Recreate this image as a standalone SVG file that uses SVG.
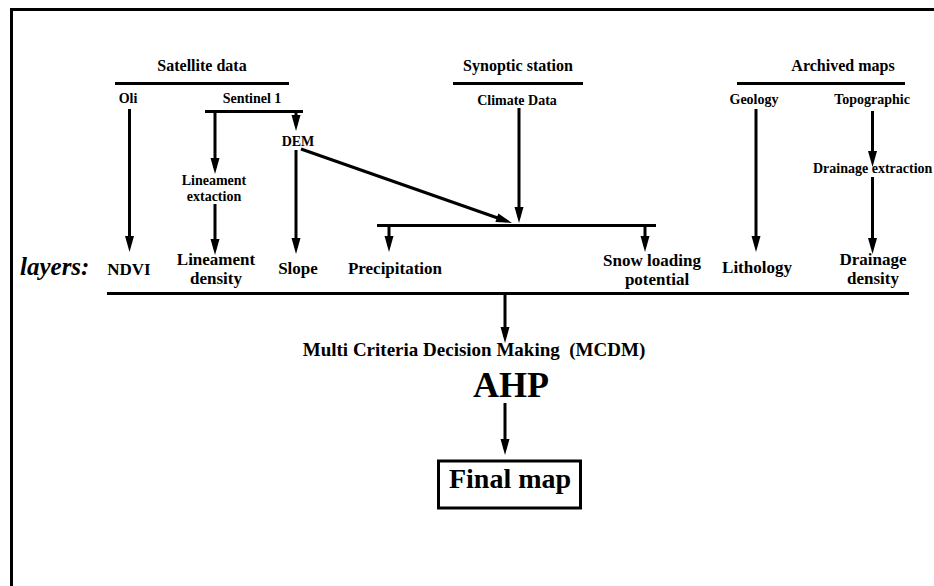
<svg xmlns="http://www.w3.org/2000/svg" width="934" height="586" viewBox="0 0 934 586" font-family="'Liberation Serif', 'Times New Roman', 'DejaVu Serif', serif" font-weight="bold">
<style>
text{font-family:'Liberation Serif','Times New Roman','DejaVu Serif',serif;font-weight:bold;fill:#000;text-anchor:middle}
.h{font-size:16px}
.s{font-size:14px}
.l{font-size:17px}
.ln{stroke:#000;stroke-width:3;fill:none}
.ar{stroke:#000;stroke-width:3;fill:none;marker-end:url(#ah)}
</style>
<defs>
<marker id="ah" markerUnits="userSpaceOnUse" markerWidth="18" markerHeight="10" refX="10" refY="4.5" orient="auto" overflow="visible">
<path d="M0,0 L16,4.5 L0,9 z" fill="#000"/>
</marker>
</defs>
<rect width="934" height="586" fill="#fff"/>
<path class="ln" d="M11.5,600 V9.5 H950"/>

<g id="connectors">
<line class="ln" x1="115" y1="83.5" x2="289" y2="83.5"/>
<line class="ln" x1="453" y1="83.5" x2="583" y2="83.5"/>
<line class="ln" x1="737" y1="83.5" x2="905" y2="83.5"/>
<line class="ln" x1="205" y1="111.5" x2="303" y2="111.5"/>
<line class="ln" x1="377" y1="225.5" x2="656" y2="225.5"/>
<line class="ln" x1="107" y1="293.5" x2="909" y2="293.5"/>
<line class="ar" x1="129.5" y1="109" x2="129.5" y2="246"/>
<line class="ar" x1="215" y1="112" x2="215" y2="168"/>
<line class="ar" x1="215" y1="204" x2="215" y2="249"/>
<line class="ar" x1="296" y1="112" x2="296" y2="125"/>
<line class="ar" x1="296" y1="150" x2="296" y2="248"/>
<line class="ar" x1="301" y1="149" x2="506.3" y2="221"/>
<line class="ar" x1="519" y1="108" x2="519" y2="217"/>
<line class="ar" x1="389" y1="226" x2="389" y2="246"/>
<line class="ar" x1="645" y1="226" x2="645" y2="246"/>
<line class="ar" x1="756" y1="109" x2="756" y2="246"/>
<line class="ar" x1="872.5" y1="111" x2="872.5" y2="161"/>
<line class="ar" x1="872.5" y1="177" x2="872.5" y2="248"/>
<line class="ar" x1="505" y1="295" x2="505" y2="337"/>
<line class="ar" x1="505" y1="403" x2="505" y2="449"/>
</g>

<g id="satellite-data"><text class="h" x="202" y="71">Satellite data</text></g>
<g id="synoptic-station"><text class="h" x="518" y="71">Synoptic station</text></g>
<g id="archived-maps"><text class="h" x="843" y="71">Archived maps</text></g>

<g id="oli"><text class="s" x="128" y="103">Oli</text></g>
<g id="sentinel1"><text class="s" x="252" y="103">Sentinel 1</text></g>
<g id="dem"><text class="s" x="298" y="146">DEM</text></g>
<g id="lineament-extaction"><text class="s" x="214" y="185">Lineament</text><text class="s" x="214" y="201">extaction</text></g>
<g id="climate-data"><text class="s" x="517" y="105">Climate Data</text></g>
<g id="geology"><text class="s" x="754" y="104">Geology</text></g>
<g id="topographic"><text class="s" x="872" y="104">Topographic</text></g>
<g id="drainage-extraction"><text class="s" x="813" y="173" style="text-anchor:start">Drainage extraction</text></g>

<g id="layers"><text x="20" y="275" style="text-anchor:start;font-size:25px;font-style:italic">layers:</text></g>
<g id="ndvi"><text class="l" x="129" y="275">NDVI</text></g>
<g id="lineament-density"><text class="l" x="216" y="265">Lineament</text><text class="l" x="216" y="284">density</text></g>
<g id="slope"><text class="l" x="298" y="274">Slope</text></g>
<g id="precipitation"><text class="l" x="395" y="274">Precipitation</text></g>
<g id="snow-loading"><text class="l" x="652" y="266">Snow loading</text><text class="l" x="657" y="285">potential</text></g>
<g id="lithology"><text class="l" x="757" y="273">Lithology</text></g>
<g id="drainage-density"><text class="l" x="873" y="265">Drainage</text><text class="l" x="873" y="284">density</text></g>

<g id="mcdm"><text x="474" y="356" style="font-size:19px;white-space:pre">Multi Criteria Decision Making  (MCDM)</text></g>
<g id="ahp"><text x="511" y="397" style="font-size:36px">AHP</text></g>
<g id="final-map">
<rect x="438.5" y="461" width="142" height="47" fill="none" stroke="#000" stroke-width="3"/>
<text x="510" y="488" style="font-size:28px">Final map</text>
</g>
</svg>
